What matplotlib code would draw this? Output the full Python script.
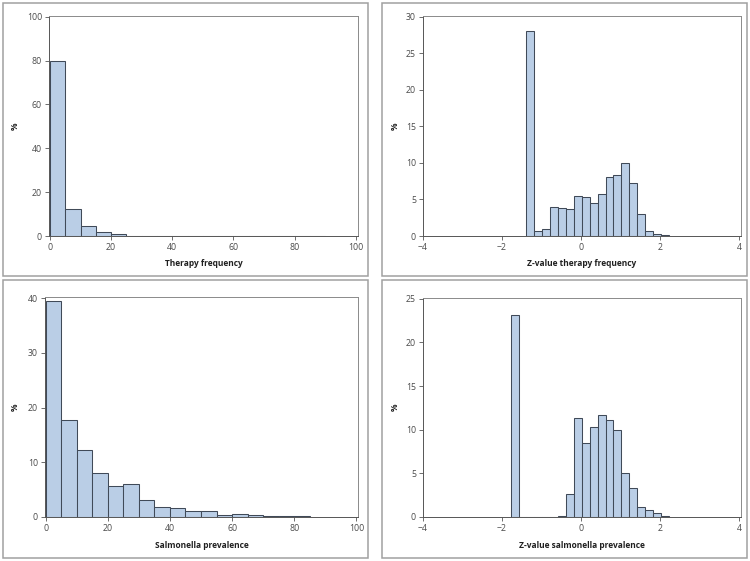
import numpy as np
import matplotlib
matplotlib.use("Agg")
import matplotlib.pyplot as plt
from matplotlib.patches import Rectangle

plt.rcParams['font.family'] = ['Open Sans', 'DejaVu Sans']

# bin edges (left) and percentages
therapy_left = np.arange(0, 90, 5)
therapy_pct = [80.0, 12.2, 4.4, 1.6, 0.8, 0.2, 0.2, 0.05, 0.15, 0.0, 0.0, 0.1, 0.2, 0.0, 0.0, 0.0, 0.0, 0.1]

z_therapy_left = -1.38 + 0.2 * np.arange(18)
z_therapy_pct = [28.0, 0.7, 0.95, 3.9, 3.8, 3.7, 5.45, 5.35, 4.5, 5.8, 8.1, 8.3, 9.95, 7.2, 2.95, 0.7, 0.3, 0.1]

salm_left = np.arange(0, 85, 5)
salm_pct = [39.4, 17.8, 12.2, 8.1, 5.65, 6.1, 3.1, 1.75, 1.65, 1.05, 1.1, 0.35, 0.55, 0.3, 0.25, 0.1, 0.1]

z_salm_left = -1.78 + 0.2 * np.arange(20)
z_salm_pct = [23.2, 0.03, 0.03, 0.03, 0.03, 0.03, 0.1, 2.65, 11.3, 8.5, 10.3, 11.7, 11.1, 10.0, 5.1, 3.3, 1.2, 0.8, 0.45, 0.1]

W, H = 750, 561
fig = plt.figure(figsize=(7.5, 5.61), dpi=100)

FILL = '#bacee6'
EDGE = '#404a58'
TXT = '#4a4a4a'

def add_box(x0, y0, x1, y1):
    fig.patches.append(Rectangle((x0 / W, 1 - y1 / H), (x1 - x0) / W, (y1 - y0) / H,
                                 transform=fig.transFigure, fill=False,
                                 edgecolor='#a0a0a0', linewidth=1.1))

def panel(rect, left, pct, width, xlim, xticks, ylim, yticks, xlabel, xlabel_y, ylabel_x):
    l, t, r, b = rect
    ax = fig.add_axes([l / W, 1 - b / H, (r - l) / W, (b - t) / H])
    ax.bar(left, pct, width=width, align='edge', color=FILL, edgecolor=EDGE, linewidth=0.75)
    ax.set_xlim(*xlim)
    ax.set_ylim(*ylim)
    ax.set_xticks(xticks)
    ax.set_yticks(yticks)
    ax.tick_params(labelsize=6.3, colors='#555555', labelcolor=TXT, length=3, width=0.6, pad=2)
    for s in ax.spines.values():
        s.set_color('#555555')
        s.set_linewidth(0.7)
    ax.spines['top'].set_color('#8a8a8a')
    ax.spines['right'].set_color('#8a8a8a')
    fig.text((l + r) / 2 / W, 1 - xlabel_y / H, xlabel, ha='center', va='center',
             fontsize=6, fontweight='bold', color='#202020')
    fig.text(ylabel_x / W, 1 - (t + b) / 2 / H, '%', ha='center', va='center', rotation=90,
             fontsize=6, fontweight='bold', color='#202020')
    return ax

add_box(3, 3, 368, 276)
add_box(382, 3, 747, 276)
add_box(3, 280, 368, 558)
add_box(382, 280, 747, 558)

panel((49, 16, 358, 236), therapy_left, therapy_pct, 5, (-0.3, 100.7), [0, 20, 40, 60, 80, 100],
      (0, 100.3), [0, 20, 40, 60, 80, 100], 'Therapy frequency', 264, 15)
panel((423, 16, 741, 236), z_therapy_left, z_therapy_pct, 0.2, (-4, 4.05), [-4, -2, 0, 2, 4],
      (0, 30.1), [0, 5, 10, 15, 20, 25, 30], 'Z-value therapy frequency', 264, 395)
panel((45, 297, 358, 517), salm_left, salm_pct, 5, (-0.2, 100.5), [0, 20, 40, 60, 80, 100],
      (0, 40.2), [0, 10, 20, 30, 40], 'Salmonella prevalence', 545, 15)
panel((423, 298, 741, 517), z_salm_left, z_salm_pct, 0.2, (-4, 4.05), [-4, -2, 0, 2, 4],
      (0, 25.1), [0, 5, 10, 15, 20, 25], 'Z-value salmonella prevalence', 545, 395)

fig.savefig('out.png', dpi=100)
